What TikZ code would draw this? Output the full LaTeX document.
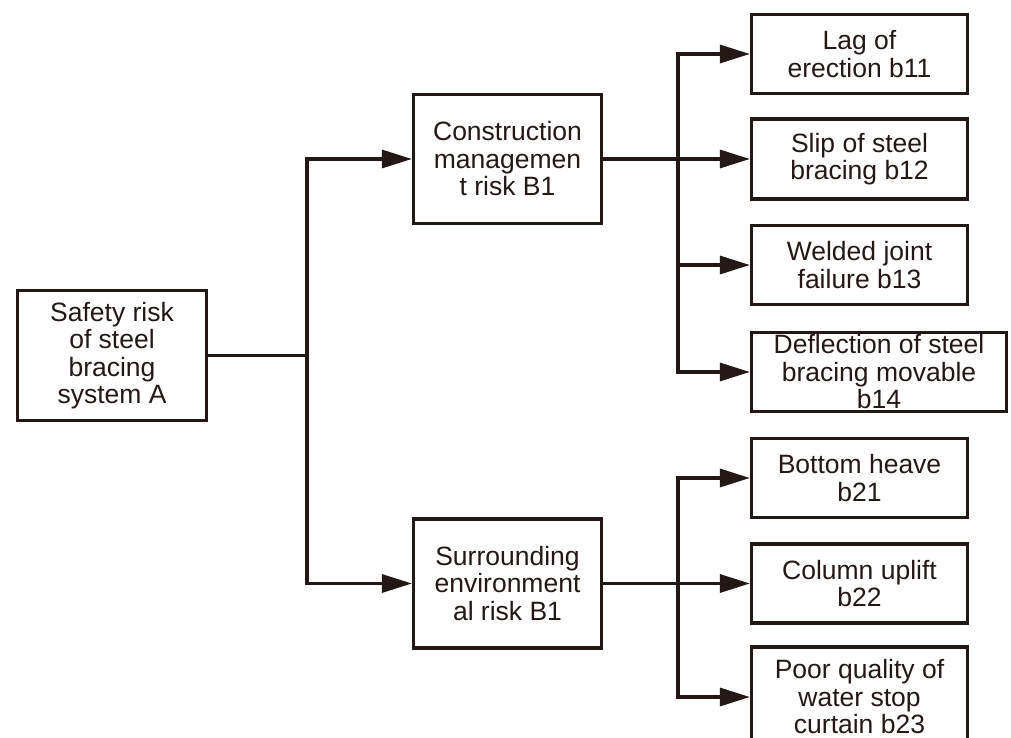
\documentclass[tikz,border=0pt]{standalone}
\usepackage{fontspec}
\setmainfont{Liberation Sans}
\usetikzlibrary{arrows.meta}
\definecolor{ink}{RGB}{35,24,21}

\begin{document}
\begin{tikzpicture}[x = 1pt, y = -1pt,
    riskbox/.style = {draw = ink, text = ink, line width = 3.2pt,
      align = center, inner sep = 0pt,
      font = \fontsize{26.5}{27.5}\selectfont},
    link/.style = {draw = ink, line width = 3.2pt},
    arrowlink/.style = {link, -{Triangle[length = 30pt, width = 18pt]}}]
    \useasboundingbox (0,0) rectangle (1011,738);
    % goal and criteria
    \node [riskbox, minimum width = 189pt, minimum height = 130pt]
      (A) at (112,355.5) {Safety risk\\of steel\\bracing\\system A};
    \node [riskbox, minimum width = 188pt, minimum height = 129pt]
      (B1) at (507.5,159) {Construction\\managemen\\t risk B1};
    \node [riskbox, minimum width = 188pt, minimum height = 129pt]
      (B2) at (507.5,583.5) {Surrounding\\environment\\al risk B1};
    \coordinate (jA) at (307,355.5);
    \coordinate (jB1) at (678,159);
    \coordinate (jB2) at (678,583.5);
    \draw [link] (A) -- (jA);
    \draw [arrowlink] (jA) |- (B1);
    \draw [arrowlink] (jA) |- (B2);
    \draw [link] (B1) -- (jB1);
    \draw [link] (B2) -- (jB2);
    % indicators
    \foreach \nm/\yy/\ww/\hh/\txt in {
      b11/54/216/79/{Lag of\\erection b11},
      b12/159/216/80/{Slip of steel\\bracing b12},
      b13/265/216/79/{Welded joint\\failure b13},
      b14/372/255/79/{Deflection of steel\\bracing movable\\b14}} {
      \node [riskbox, minimum width = \ww pt, minimum height = \hh pt]
        (\nm) at ({751.5+\ww/2}, \yy) {\txt};
      \draw [arrowlink] (jB1) |- (\nm);
    }
    \foreach \nm/\yy/\hh/\txt in {
      b21/478/79/{Bottom heave\\b21},
      b22/583.5/79/{Column uplift\\b22},
      b23/697/100/{Poor quality of\\water stop\\curtain b23}} {
      \node [riskbox, minimum width = 216pt, minimum height = \hh pt]
        (\nm) at (859.5, \yy) {\txt};
      \draw [arrowlink] (jB2) |- (\nm);
    }
  \end{tikzpicture}
\end{document}
